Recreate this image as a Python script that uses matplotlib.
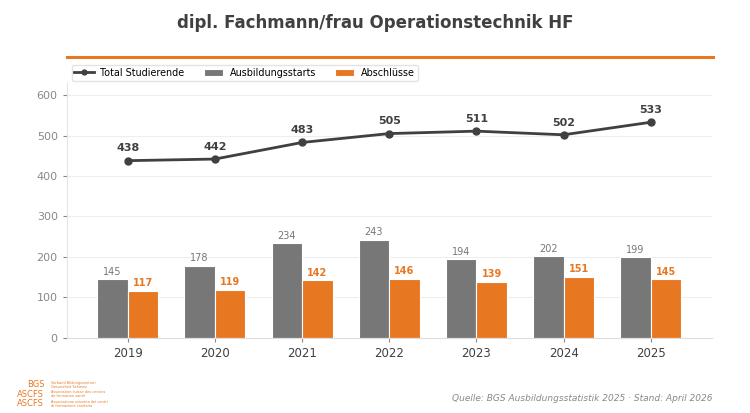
import numpy as np
import matplotlib.pyplot as plt

years = ["2019", "2020", "2021", "2022", "2023", "2024", "2025"]
total = [438, 442, 483, 505, 511, 502, 533]
starts = [145, 178, 234, 243, 194, 202, 199]
abschluesse = [117, 119, 142, 146, 139, 151, 145]

GRAY = "#777777"
ORANGE = "#E87722"
DARK = "#404040"

fig = plt.figure(figsize=(7.5, 4.13), dpi=100)
ax = fig.add_axes([0.089, 0.182, 0.86, 0.617])

x = np.arange(len(years))
w = 0.35
ax.bar(x - w / 2, starts, w, color=GRAY, edgecolor="white", linewidth=0.8, label="Ausbildungsstarts", zorder=2)
ax.bar(x + w / 2, abschluesse, w, color=ORANGE, edgecolor="white", linewidth=0.8, label="Abschlüsse", zorder=2)
ax.plot(x, total, color=DARK, lw=2, marker="o", ms=5, label="Total Studierende", zorder=3)

for xi, v in zip(x, starts):
    ax.text(xi - w / 2, v + 6, str(v), ha="center", va="bottom", fontsize=7, color=GRAY)
for xi, v in zip(x, abschluesse):
    ax.text(xi + w / 2, v + 6, str(v), ha="center", va="bottom", fontsize=7, color=ORANGE, fontweight="bold")
for xi, v in zip(x, total):
    ax.text(xi, v + 18, str(v), ha="center", va="bottom", fontsize=8, color=DARK, fontweight="bold")

ax.set_xlim(-0.7, 6.7)
ax.set_ylim(0, 630)
ax.set_yticks(range(0, 601, 100))
ax.set_xticks(x)
ax.set_xticklabels(years, fontsize=8.5, color=DARK)
ax.tick_params(axis="y", labelsize=8, colors="#888888", length=3)
ax.tick_params(axis="x", length=3, color="#888888")
ax.grid(axis="y", color="#eeeeee", lw=0.8, zorder=0)
ax.set_axisbelow(True)
for s in ["top", "right"]:
    ax.spines[s].set_visible(False)
ax.spines["left"].set_color("#e6e6e6")
ax.spines["bottom"].set_color("#dddddd")

ax.legend(loc="upper left", ncol=3, bbox_to_anchor=(0.0, 1.09), fontsize=6.9, frameon=True,
          edgecolor="#dddddd", handlelength=2.0, columnspacing=2.0, handletextpad=0.7,
          borderpad=0.3, markerscale=0.7)

fig.text(0.5, 0.945, "dipl. Fachmann/frau Operationstechnik HF", ha="center", va="center",
         fontsize=12, fontweight="bold", color=DARK)
fig.add_artist(plt.Line2D([0.089, 0.95], [0.862, 0.862], color=ORANGE, lw=2.2, transform=fig.transFigure))

fig.text(0.95, 0.035, "Quelle: BGS Ausbildungsstatistik 2025 · Stand: April 2026", ha="right", va="center",
         fontsize=6.5, style="italic", color="#888888")

# logo
logo = [("BGS", "Verband Bildungszentren\nGesundheit Schweiz", 0.068),
        ("ASCFS", "Association suisse des centres\nde formation santé", 0.045),
        ("ASCFS", "Associazione svizzera dei centri\ndi formazione sanitaria", 0.022)]
for abbr, txt, yy in logo:
    fig.text(0.059, yy, abbr, ha="right", va="center", fontsize=6, color=ORANGE)
    fig.text(0.068, yy, txt, ha="left", va="center", fontsize=2.5, color=ORANGE, linespacing=1.0)

fig.savefig("out.png", dpi=100)
